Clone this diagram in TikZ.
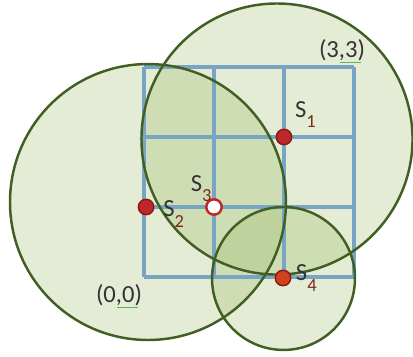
\documentclass[tikz,border=0pt]{standalone}
\usepackage{fontspec}
\setmainfont{Carlito}
\usepackage{xcolor}
\definecolor{ZoneFill}{RGB}{130,165,60}
\definecolor{ZoneLine}{RGB}{65,95,35}
\definecolor{GridBlue}{RGB}{120,165,195}
\definecolor{DotRed}{RGB}{190,40,40}
\definecolor{DotEdge}{RGB}{140,25,25}
\definecolor{SubRed}{RGB}{120,40,30}
\definecolor{SquiggleGreen}{RGB}{90,180,90}
\usetikzlibrary{positioning}
\newcommand{\sname}[1]{S\raisebox{-0.9ex}{\fontsize{7.5}{8}\selectfont\color{SubRed}#1}}

\begin{document}
\begin{tikzpicture}[
    zone/.style={fill=ZoneFill, fill opacity=0.21},
    zoneline/.style={draw=ZoneLine, line width=1pt},
    sensor/.style={circle, draw=DotEdge, fill=DotRed, line width=0.6pt,
                   minimum size=0.22cm, inner sep=0pt},
    target/.style={sensor, fill=white, draw=DotRed, line width=1pt},
    lbl/.style={inner sep=0.5pt, font=\fontsize{10}{12}\selectfont, text=black!80}
  ]
  \useasboundingbox (-2.057,-1.129) rectangle (3.843,3.957);

  % coverage zones
  \fill[zone] (0.057,1.071) circle (1.971);
  \fill[zone] (1.9,1.971) circle (1.936);
  \fill[zone] (1.993,-0.021) circle (1.021);

  % grid
  \draw[GridBlue, line width=1.25pt] (0,0) grid (3,3);

  \draw[zoneline] (0.057,1.071) circle (1.971);
  \draw[zoneline] (1.9,1.971) circle (1.936);
  \draw[zoneline] (1.993,-0.021) circle (1.021);

  % sensors
  \node[sensor] (s1) at (2,2) {};
  \node[sensor] (s2) at (0.03,1) {};
  \node[target] (s3) at (1,1) {};
  \node[sensor, fill=DotRed!70!orange] (s4) at (1.986,-0.014) {};

  \node[lbl, above right=0.02cm and 0.05cm of s1] (l1) {\sname{1}};
  \node[lbl, right=0.1cm of s2, yshift=-0.1cm] (l2) {\sname{2}};
  \node[lbl, above left=-0.04cm and -0.08cm of s3] (l3) {\sname{3}};
  \node[lbl, right=0.04cm of s4] (l4) {\sname{4}};

  % corners
  \node[lbl] (c00) at (-0.357,-0.257) {(0,0)};
  \node[lbl] (c33) at (2.829,3.243) {(3,3)};
  \draw[SquiggleGreen, line width=0.4pt] ([xshift=-0.38cm, yshift=0.0cm]c00.south east) -- ([xshift=-0.08cm, yshift=0.0cm]c00.south east);
  \draw[SquiggleGreen, line width=0.4pt] ([xshift=-0.38cm, yshift=0.0cm]c33.south east) -- ([xshift=-0.08cm, yshift=0.0cm]c33.south east);
\end{tikzpicture}
\end{document}
